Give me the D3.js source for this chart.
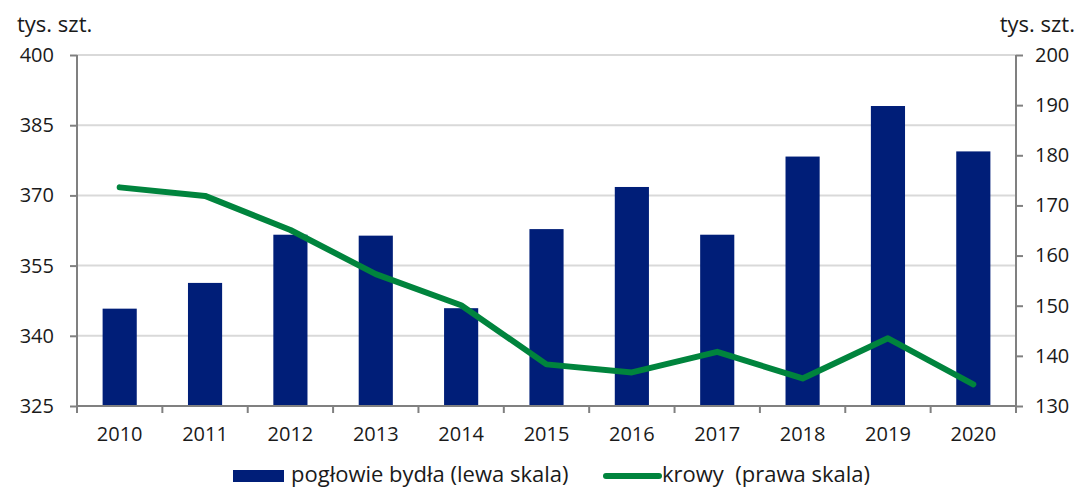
<!DOCTYPE html>
<html>
<head>
<meta charset="utf-8">
<script src="https://cdn.jsdelivr.net/npm/d3@7"></script>
<style>
  body { margin: 0; background: #fff; }
  text { font-family: "Open Sans", "Noto Sans", sans-serif; fill: #1a1a1a; }
</style>
</head>
<body>
<svg id="chart" width="1076" height="488"></svg>
<script>
// dane
var years = ["2010","2011","2012","2013","2014","2015","2016","2017","2018","2019","2020"];
var bydlo = [345.8, 351.3, 361.6, 361.4, 345.9, 362.8, 371.8, 361.6, 378.3, 389.1, 379.4];
var krowy = [173.6, 171.9, 165.1, 156.3, 150.1, 138.3, 136.7, 140.8, 135.5, 143.5, 134.3];
var leftTicks = [325, 340, 355, 370, 385, 400];
var rightTicks = [130, 140, 150, 160, 170, 180, 190, 200];

var svg = d3.select("#chart");
var x0 = 77, x1 = 1016, yTop = 55, yBot = 406;

var x = d3.scaleBand().domain(years).range([x0, x1]).paddingInner(0.6).paddingOuter(0.3);
var xb = d3.scaleBand().domain(years).range([x0, x1]); // granice kategorii (ticki)
var yL = d3.scaleLinear().domain([325, 400]).range([yBot, yTop]);
var yR = d3.scaleLinear().domain([130, 200]).range([yBot, yTop]);

// siatka
svg.append("g").selectAll("line")
    .data(leftTicks.slice(1))
    .join("line")
    .attr("x1", x0).attr("x2", x1)
    .attr("y1", function(d){ return yL(d); })
    .attr("y2", function(d){ return yL(d); })
    .attr("stroke", "#d9d9d9").attr("stroke-width", 2);

// slupki
svg.append("g").selectAll("rect")
    .data(years)
    .join("rect")
    .attr("x", function(d){ return x(d); })
    .attr("width", x.bandwidth())
    .attr("y", function(d, i){ return yL(bydlo[i]); })
    .attr("height", function(d, i){ return yBot - yL(bydlo[i]); })
    .attr("fill", "#001e78");

// linia krowy
var line = d3.line()
    .x(function(d, i){ return xb(years[i]) + xb.bandwidth() / 2; })
    .y(function(d){ return yR(d); });
svg.append("path")
    .datum(krowy)
    .attr("d", line)
    .attr("fill", "none")
    .attr("stroke", "#00843d")
    .attr("stroke-width", 6)
    .attr("stroke-linecap", "round")
    .attr("stroke-linejoin", "round");

// osie
var axisL = svg.append("g").attr("transform", "translate(" + x0 + ",0)")
    .call(d3.axisLeft(yL).tickValues(leftTicks).tickSize(7).tickPadding(16));
var axisR = svg.append("g").attr("transform", "translate(" + x1 + ",0)")
    .call(d3.axisRight(yR).tickValues(rightTicks).tickSize(7).tickPadding(12));
var axisB = svg.append("g").attr("transform", "translate(0," + yBot + ")")
    .call(d3.axisBottom(xb).tickSize(0).tickPadding(21));

// ticki osi X na granicach kategorii
svg.append("g").selectAll("line")
    .data(d3.range(years.length + 1))
    .join("line")
    .attr("x1", function(i){ return x0 + i * xb.step(); })
    .attr("x2", function(i){ return x0 + i * xb.step(); })
    .attr("y1", yBot).attr("y2", yBot + 7)
    .attr("stroke", "#808080").attr("stroke-width", 2);

[axisL, axisR, axisB].forEach(function(a){
    a.select(".domain").attr("stroke", "#808080").attr("stroke-width", 2);
    a.selectAll(".tick line").attr("stroke", "#808080").attr("stroke-width", 2);
    a.selectAll(".tick text").style("font-size", "20px").attr("fill", "#1a1a1a");
});
axisL.select(".domain").attr("d", "M0," + yTop + "V" + yBot);
axisR.select(".domain").attr("d", "M0," + yTop + "V" + yBot);
axisB.select(".domain").attr("d", "M" + x0 + ",0H" + x1);

// jednostki
svg.append("text").attr("x", 17).attr("y", 32).style("font-size", "22px").text("tys. szt.");
svg.append("text").attr("x", 1075).attr("y", 32).attr("text-anchor", "end").style("font-size", "22px").text("tys. szt.");

// legenda (podniesiona o kilka px, zeby nie ucinac liter)
var leg = svg.append("g");
leg.append("rect").attr("x", 233).attr("y", 470).attr("width", 51).attr("height", 12).attr("fill", "#001e78");
leg.append("text").attr("x", 291).attr("y", 482).style("font-size", "22px").text("pogłowie bydła (lewa skala)");
leg.append("line").attr("x1", 606).attr("x2", 659).attr("y1", 476).attr("y2", 476)
    .attr("stroke", "#00843d").attr("stroke-width", 6).attr("stroke-linecap", "round");
leg.append("text").attr("x", 662).attr("y", 482).style("font-size", "22px").style("white-space", "pre")
    .text("krowy  (prawa skala)");
</script>
</body>
</html>
